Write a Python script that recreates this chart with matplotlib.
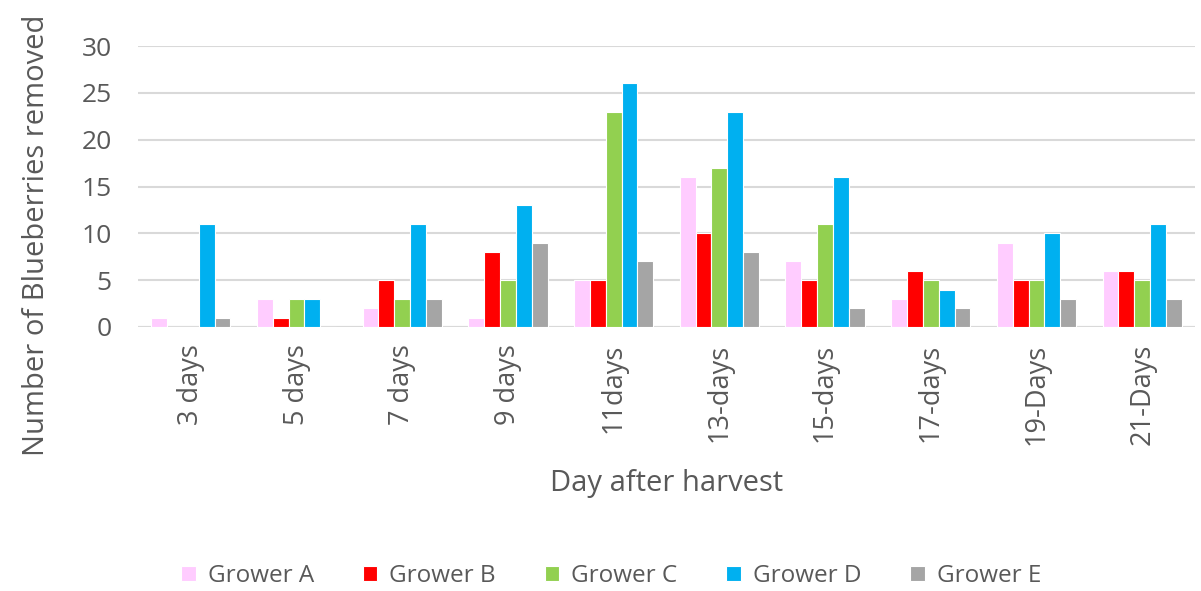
import matplotlib
matplotlib.use("Agg")
import matplotlib.pyplot as plt
import numpy as np

plt.rcParams['font.family'] = ['Open Sans', 'DejaVu Sans']

days = ["3 days", "5 days", "7 days", "9 days", "11days",
        "13-days", "15-days", "17-days", "19-Days", "21-Days"]
growers = ["Grower A", "Grower B", "Grower C", "Grower D", "Grower E"]
grower_a = [1, 3, 2, 1, 5, 16, 7, 3, 9, 6]
grower_b = [0, 1, 5, 8, 5, 10, 5, 6, 5, 6]
grower_c = [0, 3, 3, 5, 23, 17, 11, 5, 5, 5]
grower_d = [11, 3, 11, 13, 26, 23, 16, 4, 10, 11]
grower_e = [1, 0, 3, 9, 7, 8, 2, 2, 3, 3]
colors = ["#ffccff", "#ff0000", "#92d050", "#00b0f0", "#a5a5a5"]

series = [grower_a, grower_b, grower_c, grower_d, grower_e]
text_col = "#595959"

W, H = 1201, 591
fig = plt.figure(figsize=(W / 100, H / 100), dpi=100)
# plot area in pixel terms: x 138..1195, y 46..327
ax = fig.add_axes([138 / W, 1 - 327 / H, (1195 - 138) / W, (327 - 46) / H])

x = np.arange(len(days))
w = 0.15
for i, (vals, name) in enumerate(zip(series, growers)):
    ax.bar(x + (i - 2) * w, vals, w, color=colors[i], edgecolor="white",
           linewidth=0.8, label=name, zorder=3)

ax.set_xlim(-0.5, len(days) - 0.5)
ax.set_ylim(0, 30)
ax.set_yticks(range(0, 31, 5))
ax.yaxis.grid(True, color="#d9d9d9", linewidth=1.5, zorder=0)
for s in ax.spines.values():
    s.set_visible(False)
ax.axhline(0, color="#d9d9d9", linewidth=1.5, zorder=1)
ax.tick_params(length=0, labelcolor=text_col)
ax.set_xticks(x)
ax.set_xticklabels(days, rotation=90)
ax.tick_params(axis="x", pad=12, labelsize=19.5)
ax.tick_params(axis="y", pad=19, labelsize=19)

ax.set_xlabel("Day after harvest", fontsize=21, color=text_col, va="center")
ax.xaxis.set_label_coords(0.5, (327 - 483) / 281)
ax.set_ylabel("Number of Blueberries removed", fontsize=21, color=text_col, va="center")
ax.yaxis.set_label_coords((37 - 138) / 1057, (327 - 235) / 281)

ax.legend(loc="center", bbox_to_anchor=(611 / W, 1 - 576 / H),
          bbox_transform=fig.transFigure,
          ncol=5, frameon=False, fontsize=17.5, labelcolor=text_col,
          handlelength=0.6, handleheight=0.6, handletextpad=0.5, columnspacing=2.0)

fig.savefig("out.png", dpi=100)
